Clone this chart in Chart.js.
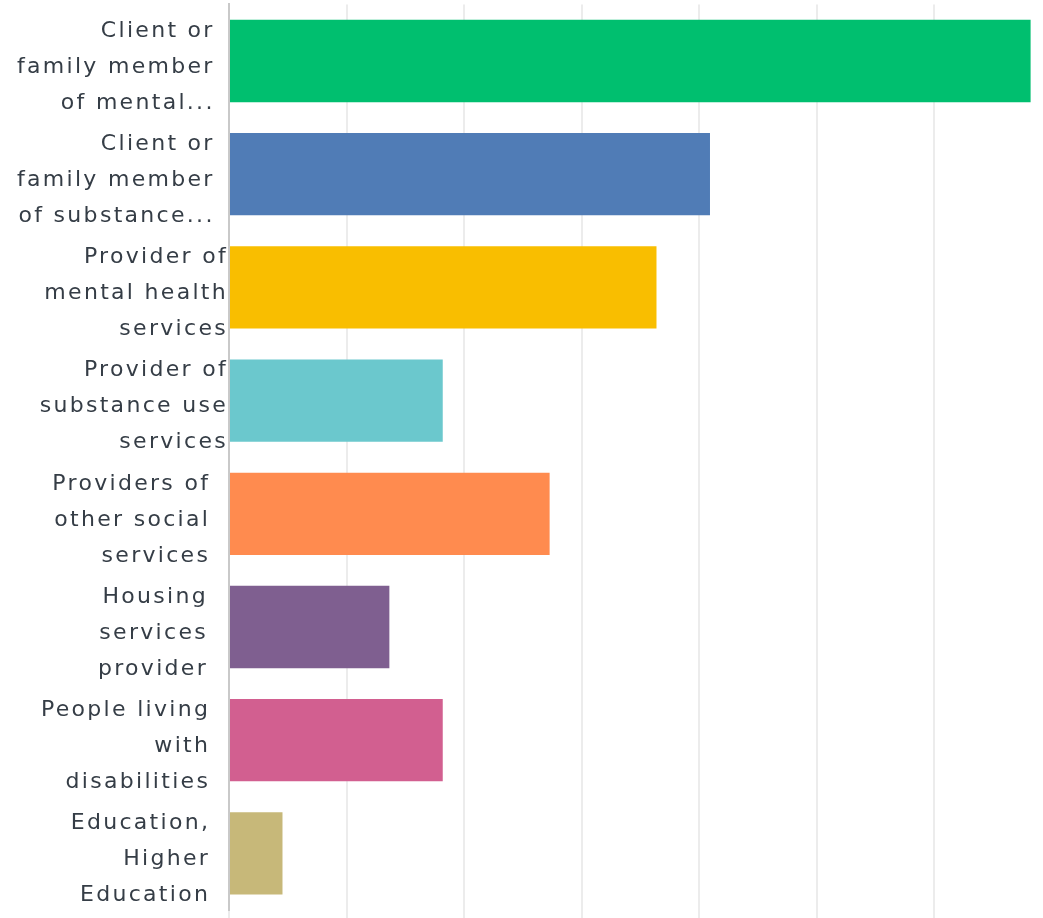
<!DOCTYPE html>
<html>
<head>
<meta charset="utf-8">
<script src="https://cdn.jsdelivr.net/npm/chart.js@4/dist/chart.umd.min.js"></script>
<style>
  html, body { margin: 0; padding: 0; background: #ffffff; overflow: hidden; }
  #wrap { position: relative; width: 1052px; height: 930px; }
</style>
</head>
<body>
<div id="wrap"><canvas id="c"></canvas></div>
<script>
// ---- data ----
const categories = [
  ["Client or", "family member", "of mental..."],
  ["Client or", "family member", "of substance..."],
  ["Provider of", "mental health", "services"],
  ["Provider of", "substance use", "services"],
  ["Providers of", "other social", "services"],
  ["Housing", "services", "provider"],
  ["People living", "with", "disabilities"],
  ["Education,", "Higher", "Education"]
];
const percentValues = [68.18, 40.91, 36.36, 18.18, 27.27, 13.64, 18.18, 4.55];
const axisTicks = [0, 10, 20, 30, 40, 50, 60, 70];

// ---- style ----
const barColors = ["#00bf6f", "#507cb6", "#f9be00", "#6bc8cd", "#ff8b4f", "#7f5f90", "#d25f90", "#c7b879"];
// invisible trailing spacing per label (right-edge inset of each label block)
const EN = '\u2002', HAIR = '\u200A', THIN = '\u2009';
const labelTrail = [EN, EN, '', '', EN + HAIR, EN + THIN, EN + HAIR, EN + HAIR];

const letterSpacingPlugin = {
  id: 'letterSpacing',
  beforeDraw(chart) { chart.ctx.letterSpacing = '2.3px'; }
};

new Chart(document.getElementById('c'), {
  type: 'bar',
  data: {
    labels: categories,
    datasets: [{
      data: percentValues,
      backgroundColor: barColors,
      borderWidth: 0,
      barPercentage: 0.727,
      categoryPercentage: 1.0
    }]
  },
  options: {
    indexAxis: 'y',
    responsive: true,
    maintainAspectRatio: false,
    animation: false,
    layout: { padding: { top: 4.4, left: 0, right: 0, bottom: 0 } },
    plugins: { legend: { display: false }, tooltip: { enabled: false } },
    scales: {
      x: {
        min: 0, max: 70,
        afterBuildTicks(scale) { scale.ticks = axisTicks.map(v => ({ value: v })); },
        ticks: { display: false },
        grid: { color: '#ececec', lineWidth: 2, drawTicks: true, tickLength: 20 },
        border: { display: false }
      },
      y: {
        afterFit(scale) {
          scale.width = 229;
          scale.paddingTop = 0;
          scale.paddingBottom = 0;
        },
        grid: { display: false, drawTicks: false },
        border: { display: true, color: '#c9c9c9', width: 2 },
        ticks: {
          padding: 1,
          labelOffset: 6,
          color: '#353d46',
          callback(value, index) {
            const t = labelTrail[index] || '';
            return categories[index].map(line => line + t);
          },
          font: { family: 'DejaVu Sans', size: 22, lineHeight: '36px' }
        }
      }
    }
  },
  plugins: [letterSpacingPlugin]
});
</script>
</body>
</html>
